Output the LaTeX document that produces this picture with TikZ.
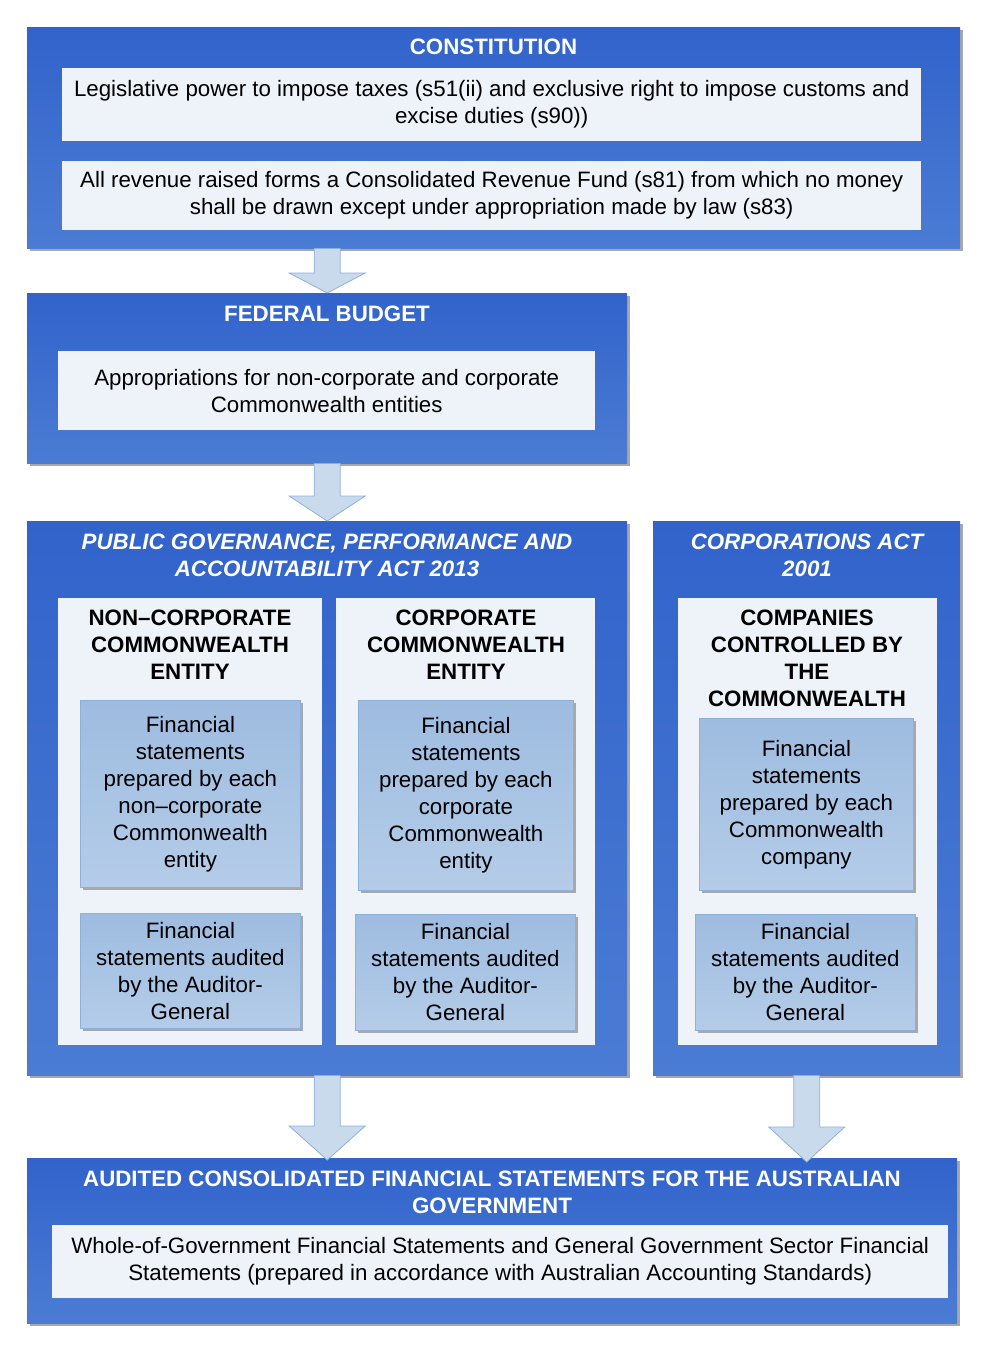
\documentclass[tikz,border=0pt]{standalone}
\usepackage{fontspec}
\setmainfont{Liberation Sans}
\usetikzlibrary{shadows,calc}
\definecolor{outertop}{HTML}{3163CB}
\definecolor{outerbot}{HTML}{4B7CD4}
\definecolor{panelfill}{HTML}{EEF2F9}
\definecolor{lighttop}{HTML}{9EBCE0}
\definecolor{lightbot}{HTML}{B4CCE8}
\definecolor{lightline}{HTML}{8DB0DA}
\definecolor{arrowfill}{HTML}{C9DAEC}
\definecolor{shadowgray}{HTML}{A8A8A8}
\tikzset{
  boxfont/.style={font=\fontsize{22.3}{27}\selectfont},
  outerbox/.style={anchor=north west, inner sep=0pt, top color=outertop, bottom color=outerbot,
    drop shadow={shadow xshift=3pt, shadow yshift=-3pt, fill=shadowgray, opacity=1}},
  panel/.style={anchor=north west, inner sep=0pt, fill=panelfill, align=center, boxfont},
  lightbox/.style={anchor=north west, inner sep=0pt, top color=lighttop, bottom color=lightbot,
    draw=lightline, line width=0.8pt, align=center, boxfont,
    drop shadow={shadow xshift=3pt, shadow yshift=-3pt, fill=shadowgray, opacity=1}},
  heading/.style={text=white, align=center, font=\bfseries\fontsize{22.3}{27}\selectfont},
  actheading/.style={heading, font=\bfseries\itshape\fontsize{22.3}{27}\selectfont},
  subheading/.style={align=center, font=\bfseries\fontsize{22.3}{27}\selectfont},
  bigarrow/.style={fill=arrowfill, draw=lightline, line width=0.8pt, line join=miter}
}
\newcommand{\flowarrow}[3]{%
  \draw[bigarrow] ($(#1)+(-13,0)$) -- ($(#2)+(-13,-#3)$) -- ($(#2)+(-38,-#3)$) -- (#2)
    -- ($(#2)+(38,-#3)$) -- ($(#2)+(13,-#3)$) -- ($(#1)+(13,0)$) -- cycle;}
\begin{document}
\begin{tikzpicture}[x=1pt, y=-1pt]
  \useasboundingbox (0,0) rectangle (989,1352);

  \node[outerbox, minimum width=933pt, minimum height=221pt] (const) at (27,27) {};
  \node[heading] (consttitle) at (493.5,47) {CONSTITUTION};
  \node[panel, minimum width=859pt, minimum height=73pt] (taxes) at (62,68)
    {Legislative power to impose taxes (s51(ii) and exclusive right to impose customs and\\excise duties (s90))};
  \node[panel, minimum width=859pt, minimum height=69pt] (revenue) at (62,161)
    {All revenue raised forms a Consolidated Revenue Fund (s81) from which no money\\shall be drawn except under appropriation made by law (s83)};

  \node[outerbox, minimum width=600pt, minimum height=170pt] (budget) at (27,293) {};
  \node[heading] (budgettitle) at (327,314) {FEDERAL BUDGET};
  \node[panel, minimum width=537pt, minimum height=79pt] (approp) at (58,351)
    {Appropriations for non-corporate and corporate\\Commonwealth entities};

  \node[outerbox, minimum width=600pt, minimum height=554pt] (pgpa) at (27,521) {};
  \node[actheading] (pgpatitle) at (327,555.5) {PUBLIC GOVERNANCE, PERFORMANCE AND\\ACCOUNTABILITY ACT 2013};
  \node[panel, minimum width=264pt, minimum height=447pt] (noncorp) at (58,598) {};
  \node[subheading] (noncorptitle) at (190,645) {NON--CORPORATE\\COMMONWEALTH\\ENTITY};
  \node[lightbox, minimum width=220pt, minimum height=187pt] (ncprep) at (80,700)
    {Financial\\statements\\prepared by each\\non--corporate\\Commonwealth\\entity};
  \node[lightbox, minimum width=220pt, minimum height=115pt] (ncaudit) at (80,913)
    {Financial\\statements audited\\by the Auditor-\\General};
  \node[panel, minimum width=259pt, minimum height=447pt] (corp) at (336,598) {};
  \node[subheading] (corptitle) at (466,645) {CORPORATE\\COMMONWEALTH\\ENTITY};
  \node[lightbox, minimum width=215pt, minimum height=190pt] (cprep) at (358,700)
    {Financial\\statements\\prepared by each\\corporate\\Commonwealth\\entity};
  \node[lightbox, minimum width=220pt, minimum height=116pt] (caudit) at (355,914)
    {Financial\\statements audited\\by the Auditor-\\General};

  \node[outerbox, minimum width=307pt, minimum height=554pt] (corpact) at (653,521) {};
  \node[actheading] (corpacttitle) at (807,555.5) {CORPORATIONS ACT\\2001};
  \node[panel, minimum width=259pt, minimum height=447pt] (companies) at (678,598) {};
  \node[subheading] (companiestitle) at (807,658.5) {COMPANIES\\CONTROLLED BY\\THE\\COMMONWEALTH};
  \node[lightbox, minimum width=214pt, minimum height=172pt] (coprep) at (699,718)
    {Financial\\statements\\prepared by each\\Commonwealth\\company};
  \node[lightbox, minimum width=220pt, minimum height=116pt] (coaudit) at (695,914)
    {Financial\\statements audited\\by the Auditor-\\General};

  \node[outerbox, minimum width=930pt, minimum height=165pt] (final) at (27,1158) {};
  \node[heading] (finaltitle) at (492,1192.5) {AUDITED CONSOLIDATED FINANCIAL STATEMENTS FOR THE AUSTRALIAN\\GOVERNMENT};
  \node[panel, minimum width=896pt, minimum height=73pt] (wog) at (52,1225)
    {Whole-of-Government Financial Statements and General Government Sector Financial\\Statements (prepared in accordance with Australian Accounting Standards)};

  \coordinate (a1start) at (budget.north |- const.south);
  \coordinate (a3end) at ($(pgpa.south |- final.north)+(0,2)$);
  \coordinate (a4end) at ($(corpact.south |- final.north)+(0,4)$);
  \flowarrow{a1start}{budget.north}{20}
  \flowarrow{budget.south}{pgpa.north}{25}
  \flowarrow{pgpa.south}{a3end}{34}
  \flowarrow{corpact.south}{a4end}{35}
\end{tikzpicture}
\end{document}
